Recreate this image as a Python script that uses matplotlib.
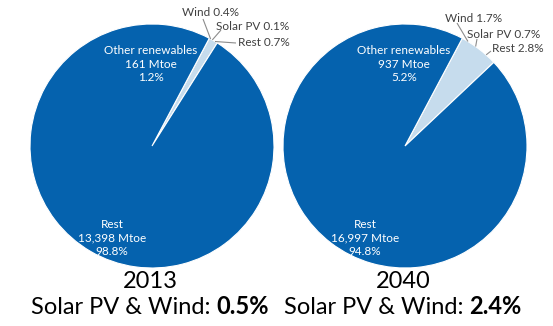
import numpy as np
import matplotlib
matplotlib.use("Agg")
import matplotlib.pyplot as plt

# ---- data ----
years = ["2013", "2040"]
other_ren_mtoe = [161, 937]
rest_mtoe = [13398, 16997]
other_ren_pct = [1.2, 5.2]
rest_pct = [98.8, 94.8]
wind_pct = [0.4, 1.7]
solar_pct = [0.1, 0.7]
rest_ren_pct = [0.7, 2.8]
solar_wind_pct = [0.5, 2.4]

# ---- layout ----
W, H = 553, 326
plt.rcParams['font.family'] = ['Lato', 'DejaVu Sans']
fig = plt.figure(figsize=(W / 100, H / 100), dpi=100)
ax = fig.add_axes([0, 0, 1, 1])

DARK = '#0562AE'
LIGHT = '#C6DCED'
GRAY = '#404040'
LEAD = '#8C8C8C'
centers_x = [152, 405]
cy = 146
R = 122
start_from_top = 28


def Y(y):
    return H - y


label_pos = [
    [(182, 13), (216, 26), (238, 42)],
    [(445, 18), (467, 34), (492, 49)],
]
lead_start = [
    [(203, 19), (221, 30), (236, 43)],
    [(457, 23), (477, 39), (491, 51)],
]

for i in range(2):
    cx = centers_x[i]
    ax.pie([other_ren_pct[i], rest_pct[i]], colors=[LIGHT, DARK],
           startangle=90 - start_from_top, counterclock=False,
           center=(cx, Y(cy)), radius=R, frame=True,
           wedgeprops=dict(edgecolor='white', linewidth=0.8))

    # inside labels
    ax.text(cx - 1, Y(64), f"Other renewables\n{other_ren_mtoe[i]:,} Mtoe\n{other_ren_pct[i]}%",
            ha='center', va='center', color='white', fontsize=8.5, linespacing=1.25)
    ax.text(cx - 40, Y(238), f"Rest\n{rest_mtoe[i]:,} Mtoe\n{rest_pct[i]}%",
            ha='center', va='center', color='white', fontsize=8.5, linespacing=1.25)

    # outside labels with leader lines to the arc
    subs = [("Wind", wind_pct[i]), ("Solar PV", solar_pct[i]), ("Rest", rest_ren_pct[i])]
    total = sum(v for _, v in subs)
    cum = 0.0
    for k, (name, v) in enumerate(subs):
        frac_mid = (cum + v / 2) / total
        cum += v
        ang = np.deg2rad(start_from_top + frac_mid * other_ren_pct[i] * 3.6)
        ex = cx + R * np.sin(ang)
        ey = Y(cy) + R * np.cos(ang)
        sx, sy = lead_start[i][k]
        ax.plot([sx, ex], [Y(sy), ey], color=LEAD, lw=0.8, solid_capstyle='butt')
        tx, ty = label_pos[i][k]
        ax.text(tx, Y(ty), f"{name} {v}%", ha='left', va='center', color=GRAY, fontsize=8.5)

    # year
    ax.text(cx - 2, Y(282), years[i], ha='center', va='center', fontsize=17, color='black')

ax.set_xlim(0, W)
ax.set_ylim(0, H)
ax.set_aspect('auto')
ax.axis('off')

# mixed regular/bold bottom line
fig.canvas.draw()
renderer = fig.canvas.get_renderer()


def text_w(s, **kw):
    t = ax.text(0, 0, s, fontsize=17, **kw)
    w = t.get_window_extent(renderer).width
    t.remove()
    return w


space_w = text_w("a a") - text_w("aa")
for i in range(2):
    cx = centers_x[i]
    s1 = "Solar PV & Wind:"
    s2 = f"{solar_wind_pct[i]}%"
    w1 = text_w(s1)
    w2 = text_w(s2, fontweight='bold')
    total_w = w1 + space_w + w2
    left = cx - 2 - total_w / 2
    ax.text(left, Y(307), s1, ha='left', va='center', fontsize=17, color='black')
    ax.text(left + w1 + space_w, Y(307), s2, ha='left', va='center', fontsize=17,
            fontweight='bold', color='black')

fig.savefig("out.png", dpi=100)
